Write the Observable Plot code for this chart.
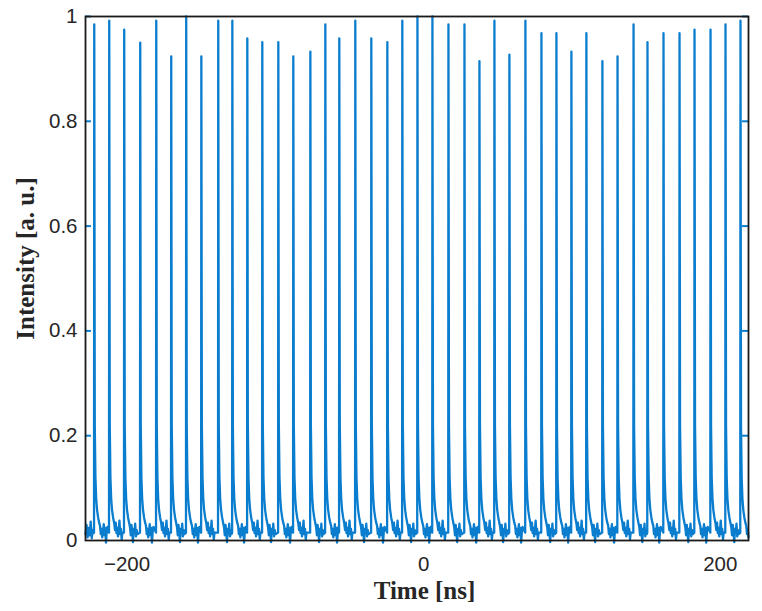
<!DOCTYPE html>
<html>
<head>
<meta charset="utf-8">
<script src="https://cdn.jsdelivr.net/npm/d3@7"></script>
<script src="https://cdn.jsdelivr.net/npm/@observablehq/plot@0.6"></script>
<style>
  html, body { margin: 0; padding: 0; background: #fff; overflow: hidden; }
</style>
</head>
<body>
<div id="chart"></div>
<script>
// Pulse peak times (ns)
const pulseTime = [-222.1, -212.0, -201.9, -191.1, -180.3, -170.2, -160.1, -149.9, -138.5, -129.0,
  -118.9, -108.8, -98.0, -87.9, -76.4, -66.3, -56.9, -46.1, -35.3, -24.5,
  -14.4, -4.2, 5.9, 16.7, 27.5, 37.6, 47.7, 57.8, 68.6, 79.4,
  89.5, 99.6, 109.7, 120.5, 130.7, 141.5, 150.9, 161.7, 172.5, 182.6,
  193.4, 203.5, 213.6];
// Pulse peak intensities (a. u.)
const pulsePeak = [0.985, 0.992, 0.975, 0.950, 0.992, 0.924, 1.000, 0.924, 0.992, 0.992,
  0.958, 0.951, 0.951, 0.924, 0.933, 0.985, 0.958, 0.992, 0.958, 0.951,
  0.992, 1.000, 1.000, 0.985, 0.985, 0.915, 0.992, 0.927, 0.992, 0.968,
  0.968, 0.933, 0.968, 0.915, 0.924, 0.985, 0.951, 0.968, 0.968, 0.975,
  0.975, 0.985, 0.992];
// Decay tail after each peak (offset ns, level)
const tailOffset = [0.35, 0.8, 1.3, 1.9, 2.6, 3.3];
const tailLevel = [0.22, 0.12, 0.08, 0.058, 0.044, 0.034];
// Baseline noise between pulses (offset ns, levels)
const noiseOffset = [3.9, 4.4, 4.9, 5.4, 5.9, 6.4, 6.9, 7.4, 7.9, 8.4, 8.9];
const noiseA = [0.028, 0.012, 0.022, 0.006, 0.018, 0.031, 0.010, 0.024, -0.004, 0.016, 0.026];
const noiseB = [0.020, 0.034, 0.014, 0.024, 0.008, 0.020, 0.038, 0.012, 0.022, 0.002, 0.015];
const noiseC = [0.025, 0.010, 0.030, 0.016, -0.003, 0.022, 0.014, 0.032, 0.008, 0.020, 0.012];
// Baseline before the first pulse
const leadTime = [-228.0, -227.3, -226.6, -225.9, -225.2, -224.5, -223.8, -223.1, -222.5];
const leadLevel = [0.012, 0.030, 0.006, 0.024, 0.010, 0.036, 0.004, 0.020, 0.014];
const preLevel = 0.015;
// Axis ticks
const xTicks = [-200, 0, 200];
const yTicks = [0, 0.2, 0.4, 0.6, 0.8, 1];

const xDomain = [-228, 219];
const noiseSets = [noiseA, noiseB, noiseC];

const rows = [];
leadTime.forEach((t, j) => rows.push({t, v: leadLevel[j]}));
pulseTime.forEach((t, i) => {
  rows.push({t: t - 0.15, v: preLevel});
  rows.push({t, v: pulsePeak[i]});
  tailOffset.forEach((o, j) => rows.push({t: t + o, v: tailLevel[j]}));
  const n = noiseSets[i % 3];
  noiseOffset.forEach((o, j) => rows.push({t: t + o, v: n[j]}));
});
const wave = rows.filter(d => d.t <= xDomain[1]);

const blue = "#0a7dcf";
const tickLen = 4;

const chart = Plot.plot({
  width: 762,
  height: 611,
  marginLeft: 85,
  marginRight: 14,
  marginTop: 16,
  marginBottom: 71,
  style: {fontFamily: "'Liberation Sans', Arial, sans-serif", fontSize: "20.5px", color: "#262626", background: "#fff"},
  x: {domain: xDomain, ticks: xTicks, tickSize: 0, tickPadding: 16, label: null},
  y: {domain: [0, 1], ticks: yTicks, tickFormat: d => String(d), tickSize: 0, tickPadding: 8, label: null},
  marks: [
    Plot.line(wave, {x: "t", y: "v", stroke: blue, strokeWidth: 2.3, curve: "linear"}),
    Plot.ruleY(yTicks.slice(1), {x1: xDomain[0], x2: xDomain[0] + tickLen, stroke: blue, strokeWidth: 2}),
    Plot.ruleY(yTicks.slice(1), {x1: xDomain[1] - tickLen, x2: xDomain[1], stroke: blue, strokeWidth: 2}),
    Plot.frame({stroke: "#1a1a1a", strokeWidth: 1.8}),
    Plot.text(["Time [ns]"], {frameAnchor: "bottom", text: d => d, dx: 7.5, dy: 50, lineAnchor: "middle", textAnchor: "middle",
      fontFamily: "'Liberation Serif', 'Times New Roman', serif", fontWeight: "bold", fontSize: 25, fill: "#262626"}),
    Plot.text(["Intensity [a. u.]"], {frameAnchor: "left", text: d => d, dx: -60, dy: -20, rotate: -90, lineAnchor: "middle", textAnchor: "middle",
      fontFamily: "'Liberation Serif', 'Times New Roman', serif", fontWeight: "bold", fontSize: 25, fill: "#262626"})
  ]
});
document.getElementById("chart").appendChild(chart);
</script>
</body>
</html>
